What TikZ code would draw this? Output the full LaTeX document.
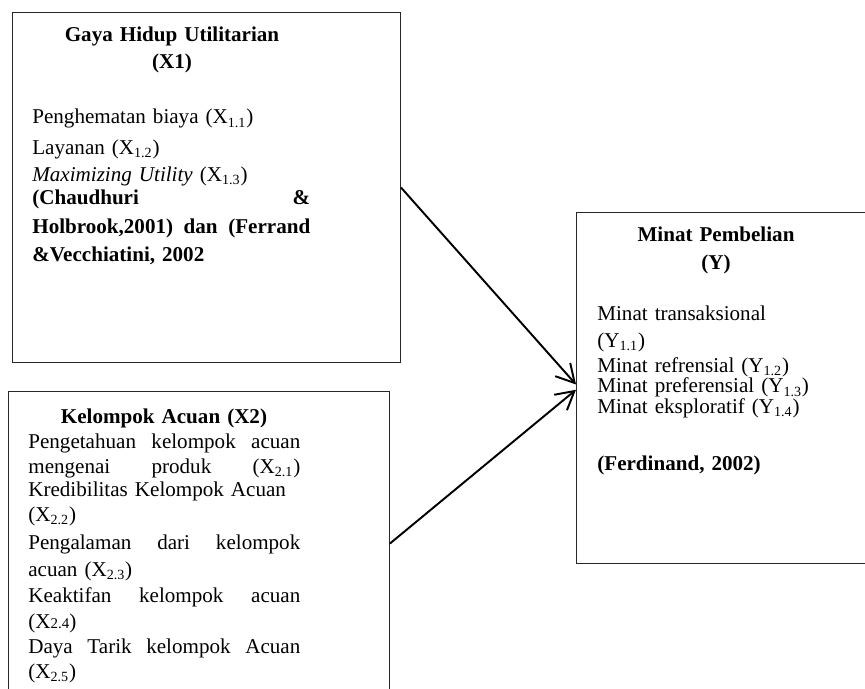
\documentclass[tikz,border=0pt]{standalone}
\usepackage{fontspec}
\setmainfont{Liberation Serif}
\usetikzlibrary{arrows.meta, positioning}
\newcommand{\idx}[1]{\textsubscript{#1}}

\begin{document}
\begin{tikzpicture}[x=0.02cm, y=-0.02cm,
    base/.style={inner sep=0pt, font=\fontsize{12}{14}\selectfont},
    frame/.style={draw=black!85, line width=0.6pt, anchor=north west},
    title/.style={base, font=\fontsize{12}{14}\selectfont\bfseries, text width=6cm, align=center, anchor=base},
    body/.style={base, align=left, anchor=base west},
    link/.style={-{Straight Barb[length=3.6mm, width=4mm]}, line width=1.1pt}]

    \useasboundingbox (0,0) rectangle (865,689);
    \clip (0,0) rectangle (865,689);

    % Boxes
    \node [frame, minimum width=7.76cm, minimum height=7cm] (x1) at (12,12) {};
    \node [frame, minimum width=7.62cm, minimum height=6.08cm] (x2) at (8,391) {};
    \node [frame, minimum width=6.48cm, minimum height=7.02cm] (y) at (576,212) {};

    % Texts
    \node [title] (x1title) at (172,42) {Gaya Hidup Utilitarian\\[0.8pt](X1)};
    \node [body, text width=5.56cm] (x1body) at (32,124) {Penghematan biaya (X\idx{1.1})\\[3.1pt]
        Layanan (X\idx{1.2})\\[1.4pt]
        \textit{Maximizing Utility} (X\idx{1.3})\\[-0.9pt]
        \textbf{(Chaudhuri\hfill\&}\\[2.5pt]
        \textbf{Holbrook,2001)\hfill dan\hfill (Ferrand}\\[1.9pt]
        \textbf{\&Vecchiatini, 2002}};

    \node [title] (x2title) at (164,423) {Kelompok Acuan (X2)};
    \node [body, text width=5.44cm] (x2body) at (28,448) {Pengetahuan\hfill kelompok\hfill acuan\\[0.4pt]
        mengenai\hfill produk\hfill (X\idx{2.1})\\[-0.9pt]
        Kredibilitas Kelompok Acuan\\[0.2pt]
        (X\idx{2.2})\\[1.9pt]
        Pengalaman\hfill dari\hfill kelompok\\[1.5pt]
        acuan (X\idx{2.3})\\[0.8pt]
        Keaktifan\hfill kelompok\hfill acuan\\[0.8pt]
        (X{\fontsize{8.5}{10}\selectfont 2.4})\\[0.2pt]
        Daya\hfill Tarik\hfill kelompok\hfill Acuan\\[0.2pt]
        (X\idx{2.5})};

    \node [title] (ytitle) at (716,241.7) {Minat Pembelian\\[2.1pt](Y)};
    \node [body, text width=5.2cm] (ybody) at (597,320) {Minat transaksional\\[1.6pt]
        (Y\idx{1.1})\\[0.2pt]
        Minat refrensial (Y\idx{1.2})\\[-2.3pt]
        Minat preferensial (Y\idx{1.3})\\[-2.3pt]
        Minat eksploratif (Y\idx{1.4})\\[18.4pt]
        \textbf{(Ferdinand, 2002)}};

    % Connectors
    \draw [link] (x1.east) -- ([yshift=2pt]y.west);
    \draw [link] (x2.east) -- ([yshift=-1pt]y.west);
\end{tikzpicture}
\end{document}
